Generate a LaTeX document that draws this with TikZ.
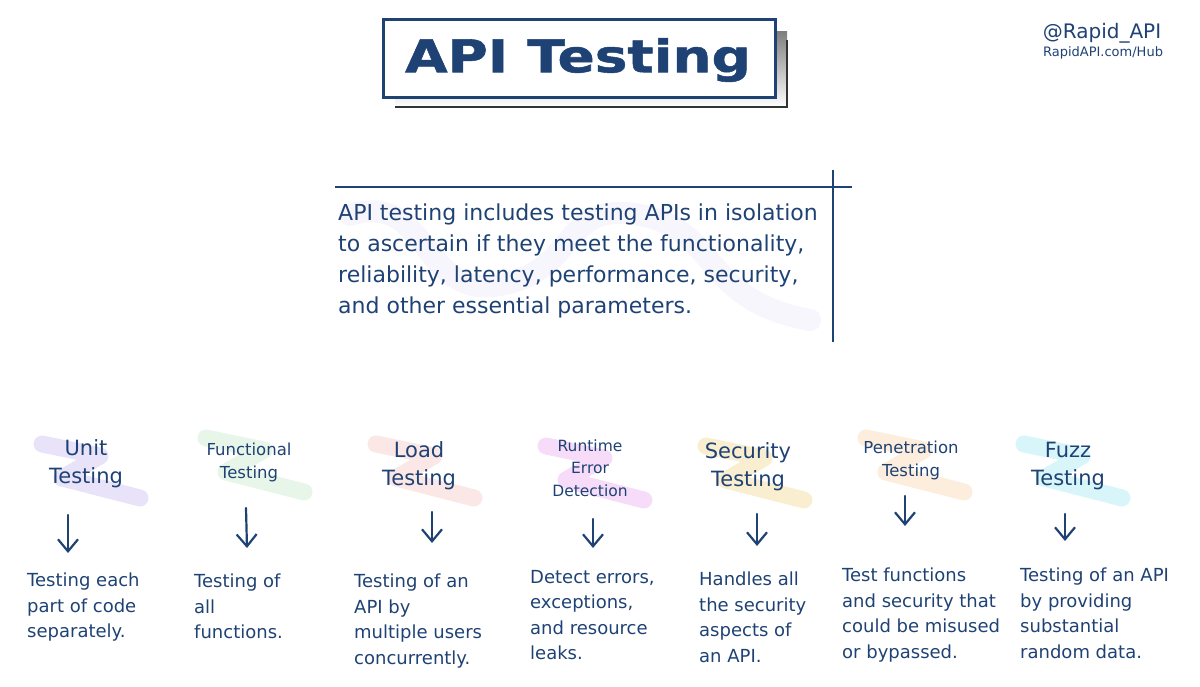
\documentclass[tikz,border=0pt]{standalone}
\usepackage{fontspec}
\setmainfont{DejaVu Sans}
\newfontfamily\titlefont[FakeStretch=1.22,FakeBold=1.2]{DejaVu Sans}
\usepackage{xcolor}
\usepackage{tikz}
\usetikzlibrary{arrows.meta}

\definecolor{navy}{HTML}{1F4274}
\definecolor{shade}{HTML}{DDE1E6}
\definecolor{lav}{HTML}{B5A3EC}
\definecolor{mint}{HTML}{B4E2B6}
\definecolor{salmon}{HTML}{F3AFA8}
\definecolor{orchid}{HTML}{E48BEA}
\definecolor{gold}{HTML}{EDC862}
\definecolor{peach}{HTML}{F4C58E}
\definecolor{aqua}{HTML}{7EE0EC}

\begin{document}
\begin{tikzpicture}[x=1pt,y=-1pt,
  head/.style={align=center,text=navy,font=\fontsize{21}{28}\selectfont},
  smallhead/.style={align=center,text=navy,font=\fontsize{16.5}{23}\selectfont},
  desc/.style={anchor=north west,align=left,inner sep=0pt,text=navy,font=\fontsize{18}{25.5}\selectfont},
  downarrow/.style={navy,line width=2.2pt,line cap=round,-{Straight Barb[length=12pt,width=20pt]}},
  ribbon/.pic={\draw[line width=17pt,opacity=.3,line join=round,line cap=round]
    (-46,-24) -- (12,-12) -- (-26,10) -- (52,30);}]
\useasboundingbox (0,0) rectangle (1200,687);

% title box with its shadow
\fill[shade] (395,32) rectangle (787,107);
\draw[black!80,line width=1.5pt] (787,40) -- (787,107) -- (395,107);
\draw[navy,line width=3pt,fill=white] (383,20) rectangle (775,98);
\node[text=navy,font=\titlefont\bfseries\fontsize{45}{50}\selectfont] (title) at (578,60) {API Testing};

\node[text=navy,font=\fontsize{20}{24}\selectfont] (handle) at (1102,33) {@Rapid\_API};
\node[text=navy,font=\fontsize{13}{16}\selectfont] (hub) at (1103,53) {RapidAPI.com/Hub};

% summary
\draw[lav,opacity=.1,line width=22pt,line cap=round]
  (350,215) .. controls (430,190) and (420,300) .. (500,285)
  .. controls (580,270) and (560,200) .. (640,215)
  .. controls (720,230) and (700,300) .. (810,320);
\draw[navy,line width=2pt] (335,187) -- (852,187);
\draw[navy,line width=2pt] (833,170) -- (833,342);
\node[anchor=north west,align=left,inner sep=0pt,text=navy,font=\fontsize{22}{31}\selectfont] (intro) at (338,204)
  {API testing includes testing APIs in isolation\\
   to ascertain if they meet the functionality,\\
   reliability, latency, performance, security,\\
   and other essential parameters.};

% kinds of testing
\pic[color=lav] at (88,468) {ribbon};
\pic[color=mint] at (252,462) {ribbon};
\pic[color=salmon] at (422,468) {ribbon};
\pic[color=orchid] at (592,470) {ribbon};
\pic[color=gold] at (752,470) {ribbon};
\pic[color=peach] at (912,462) {ribbon};
\pic[color=aqua] at (1070,468) {ribbon};

\node[head] (unit) at (86,464) {Unit\\Testing};
\node[smallhead] (func) at (249,462) {Functional\\Testing};
\node[head] (load) at (419,466) {Load\\Testing};
\node[smallhead,font=\fontsize{15.5}{22.5}\selectfont] (runtime) at (590,468) {Runtime\\Error\\Detection};
\node[head] (secu) at (748,467) {Security\\Testing};
\node[smallhead] (pene) at (911,460) {Penetration\\Testing};
\node[head] (fuzz) at (1068,466) {Fuzz\\Testing};

\coordinate (s1) at (68,515);   \coordinate (e1) at (68,553);
\coordinate (s2) at (246,508);  \coordinate (e2) at (247,548);
\coordinate (s3) at (432,512);  \coordinate (e3) at (432,543);
\coordinate (s4) at (593,519);  \coordinate (e4) at (593,548);
\coordinate (s5) at (757,514);  \coordinate (e5) at (757,546);
\coordinate (s6) at (905,496);  \coordinate (e6) at (905,526);
\coordinate (s7) at (1065,514); \coordinate (e7) at (1065,541);
\draw[downarrow] (s1) -- (e1);
\draw[downarrow] (s2) -- (e2);
\draw[downarrow] (s3) -- (e3);
\draw[downarrow] (s4) -- (e4);
\draw[downarrow] (s5) -- (e5);
\draw[downarrow] (s6) -- (e6);
\draw[downarrow] (s7) -- (e7);

\node[desc] (unitd) at (27,573) {Testing each\\part of code\\separately.};
\node[desc] (funcd) at (194,574) {Testing of\\all\\functions.};
\node[desc] (loadd) at (354,574) {Testing of an\\API by\\multiple users\\concurrently.};
\node[desc] (runtimed) at (530,570) {Detect errors,\\exceptions,\\and resource\\leaks.};
\node[desc] (secud) at (699,572) {Handles all\\the security\\aspects of\\an API.};
\node[desc] (pened) at (842,568) {Test functions\\and security that\\could be misused\\or bypassed.};
\node[desc] (fuzzd) at (1020,568) {Testing of an API\\by providing\\substantial\\random data.};
\end{tikzpicture}
\end{document}
